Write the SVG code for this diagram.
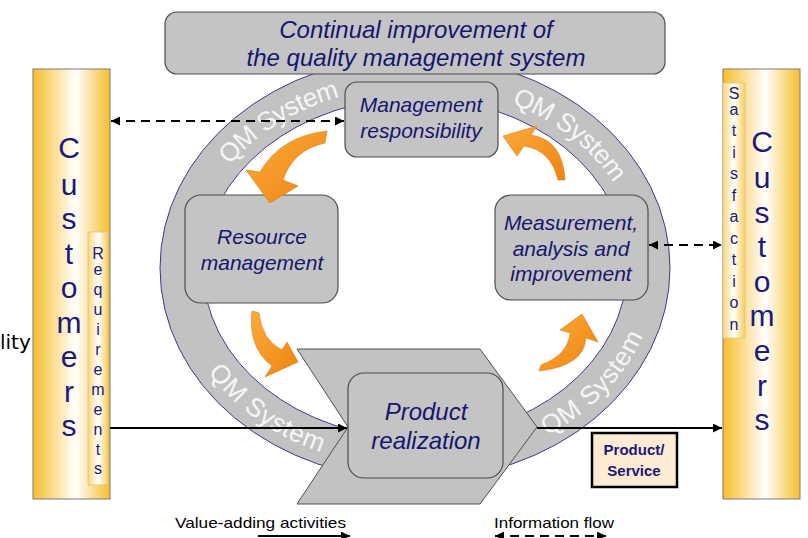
<svg xmlns="http://www.w3.org/2000/svg" width="808" height="538" viewBox="0 0 808 538">
<style>
.box{fill:#c4c4c4;stroke:#4d4d4d;stroke-width:1.2}
.lbl{font-family:"Liberation Sans",Arial,sans-serif;font-style:italic;fill:#16166e;text-anchor:middle}
.cust{font-family:"Liberation Sans",Arial,sans-serif;fill:#1a1a78;text-anchor:middle;font-size:30px}
.small{font-family:"Liberation Sans",Arial,sans-serif;fill:#1a1a78;text-anchor:middle;font-size:16px}
.qm{font-family:"Liberation Sans",Arial,sans-serif;font-size:26px;fill:#f6f6f6;text-anchor:middle}
.orange{fill:url(#og);stroke:#e07a10;stroke-width:0.6}
.sol{stroke:#000;stroke-width:2;fill:none}
.dash{stroke:#000;stroke-width:2;fill:none;stroke-dasharray:9 6}
.leg{font-family:"Liberation Sans",Arial,sans-serif;font-size:15px;fill:#000}
</style>
<defs>
<linearGradient id="bar" x1="0" x2="1" y1="0" y2="0">
<stop offset="0" stop-color="#f7be2a"/><stop offset="0.55" stop-color="#ffffff"/><stop offset="1" stop-color="#f7be2a"/>
</linearGradient>
<linearGradient id="bar2" x1="0" x2="1" y1="0" y2="0">
<stop offset="0" stop-color="#f9d77a"/><stop offset="0.5" stop-color="#ffffff"/><stop offset="1" stop-color="#f9cf60"/>
</linearGradient>
<linearGradient id="og" x1="0" x2="1" y1="0" y2="1">
<stop offset="0" stop-color="#fbab3c"/><stop offset="1" stop-color="#ee8410"/>
</linearGradient>
<marker id="ah" viewBox="0 0 10 10" refX="10" refY="5" markerWidth="10" markerHeight="9" orient="auto-start-reverse" markerUnits="userSpaceOnUse">
<path d="M0,0 L10,5 L0,10 z" fill="#000"/>
</marker>
<path id="pTop" d="M181.5,268 A233.5,191 0 0 1 648.5,268"/>
<path id="pBot" d="M181.5,268 A233.5,191 0 0 0 648.5,268"/>
</defs>

<g id="ring">
<path d="M160,268 A255,212 0 1 0 670,268 A255,212 0 1 0 160,268 Z M203,268 A212,170 0 1 0 627,268 A212,170 0 1 0 203,268 Z" fill="#c2c2c2" fill-rule="evenodd" stroke="#3a3a8c" stroke-width="1"/>
<text class="qm" dy="9"><textPath href="#pTop" startOffset="28%">QM System</textPath></text>
<text class="qm" dy="9"><textPath href="#pTop" startOffset="75.5%">QM System</textPath></text>
<text class="qm" dy="9"><textPath href="#pBot" startOffset="26%">QM System</textPath></text>
<text class="qm" dy="9"><textPath href="#pBot" startOffset="80%">QM System</textPath></text>
</g>

<g id="left-customers">
<rect x="33" y="69" width="77" height="430" fill="url(#bar)" stroke="#7a7a7a" stroke-width="1"/>
<text class="cust"><tspan x="69" y="158">C</tspan><tspan x="69" y="195">u</tspan><tspan x="69" y="229">s</tspan><tspan x="69" y="264">t</tspan><tspan x="69" y="298">o</tspan><tspan x="69" y="333">m</tspan><tspan x="69" y="367">e</tspan><tspan x="69" y="402">r</tspan><tspan x="69" y="436">s</tspan></text>
</g>
<g id="requirements">
<rect x="88" y="232" width="20" height="253" fill="url(#bar2)" stroke="#dcc08a" stroke-width="0.8"/>
<text class="small"><tspan x="98" y="259">R</tspan><tspan x="98" y="275">e</tspan><tspan x="98" y="295">q</tspan><tspan x="98" y="315">u</tspan><tspan x="98" y="335">i</tspan><tspan x="98" y="355">r</tspan><tspan x="98" y="375">e</tspan><tspan x="98" y="395">m</tspan><tspan x="98" y="415">e</tspan><tspan x="98" y="435">n</tspan><tspan x="98" y="455">t</tspan><tspan x="98" y="474">s</tspan></text>
</g>

<g id="right-customers">
<rect x="723" y="69" width="77" height="430" fill="url(#bar)" stroke="#7a7a7a" stroke-width="1"/>
<text class="cust"><tspan x="762" y="152">C</tspan><tspan x="762" y="188">u</tspan><tspan x="762" y="223">s</tspan><tspan x="762" y="257">t</tspan><tspan x="762" y="292">o</tspan><tspan x="762" y="326">m</tspan><tspan x="762" y="361">e</tspan><tspan x="762" y="396">r</tspan><tspan x="762" y="430">s</tspan></text>
</g>
<g id="satisfaction">
<rect x="723" y="83" width="22" height="255" fill="url(#bar2)" stroke="#dcc08a" stroke-width="0.8"/>
<text class="small"><tspan x="734" y="99">S</tspan><tspan x="734" y="115">a</tspan><tspan x="734" y="136">t</tspan><tspan x="734" y="158">i</tspan><tspan x="734" y="179">s</tspan><tspan x="734" y="201">f</tspan><tspan x="734" y="222">a</tspan><tspan x="734" y="244">c</tspan><tspan x="734" y="265">t</tspan><tspan x="734" y="287">i</tspan><tspan x="734" y="308">o</tspan><tspan x="734" y="330">n</tspan></text>
</g>

<g id="continual-improvement">
<rect class="box" x="165" y="12" width="500" height="62" rx="12"/>
<text class="lbl" font-size="24"><tspan x="416" y="38">Continual improvement of</tspan><tspan x="416" y="66">the quality management system</tspan></text>
</g>

<g id="management-responsibility">
<rect class="box" x="345" y="82" width="153" height="75" rx="12"/>
<text class="lbl" font-size="21"><tspan x="421" y="112">Management</tspan><tspan x="421" y="138">responsibility</tspan></text>
</g>

<g id="resource-management">
<rect class="box" x="185" y="195" width="153" height="108" rx="16"/>
<text class="lbl" font-size="21"><tspan x="262" y="244">Resource</tspan><tspan x="262" y="270">management</tspan></text>
</g>

<g id="measurement">
<rect class="box" x="495" y="195" width="153" height="105" rx="16"/>
<text class="lbl" font-size="21"><tspan x="571" y="230">Measurement,</tspan><tspan x="571" y="256">analysis and</tspan><tspan x="571" y="281">improvement</tspan></text>
</g>

<g id="product-realization">
<path d="M297,349 L480,349 L537,427 L480,504 L297,504 L348,427 Z" fill="#c2c2c2" stroke="#505050" stroke-width="1"/>
<rect class="box" x="348" y="373" width="155" height="105" rx="16"/>
<text class="lbl" font-size="24"><tspan x="426" y="420">Product</tspan><tspan x="426" y="449">realization</tspan></text>
</g>

<g id="product-service">
<rect x="592" y="433" width="85" height="54" fill="#fdebd3" stroke="#000" stroke-width="2.5"/>
<text font-family="Liberation Sans,Arial,sans-serif" font-weight="bold" font-size="15" fill="#1a1a78" text-anchor="middle"><tspan x="634" y="455">Product/</tspan><tspan x="634" y="476">Service</tspan></text>
</g>

<g id="cycle-arrows">
<path class="orange" d="M327,131 Q281,136 260,172 L246,170 L270,203 L298,186 L283,180 Q293,150 325,143 Z"/>
<path class="orange" d="M252,311 Q248,348 272,366 L265,377 L298,362 L287,342 L282,350 Q262,340 259,313 Z"/>
<path class="orange" d="M539,371 Q584,366 586,338 L598,342 L582,314 L560,330 L570,333 Q568,355 541,365 Z"/>
<path class="orange" d="M565,180 Q563,140 531,135 L537,126 L503,136 L517,156 L524,146 Q551,150 558,180 Z"/>
</g>

<g id="connectors">
<line class="dash" x1="111" y1="121" x2="344" y2="121" marker-start="url(#ah)" marker-end="url(#ah)"/>
<line class="dash" x1="649" y1="245" x2="722" y2="245" marker-start="url(#ah)" marker-end="url(#ah)"/>
<line class="sol" x1="110" y1="428" x2="347" y2="428" marker-end="url(#ah)"/>
<line class="sol" x1="537" y1="428" x2="722" y2="428" marker-end="url(#ah)"/>
<line class="sol" x1="258" y1="536" x2="350" y2="536" marker-end="url(#ah)"/>
<line class="dash" x1="495" y1="536" x2="606" y2="536" marker-start="url(#ah)" marker-end="url(#ah)"/>
</g>

<g id="legend">
<text class="leg" x="175" y="528" textLength="171" lengthAdjust="spacingAndGlyphs">Value-adding activities</text>
<text class="leg" x="494" y="528" textLength="120" lengthAdjust="spacingAndGlyphs">Information flow</text>
</g>

<text x="0" y="349" font-family="DejaVu Sans,sans-serif" font-size="20" fill="#000">lity</text>
</svg>
